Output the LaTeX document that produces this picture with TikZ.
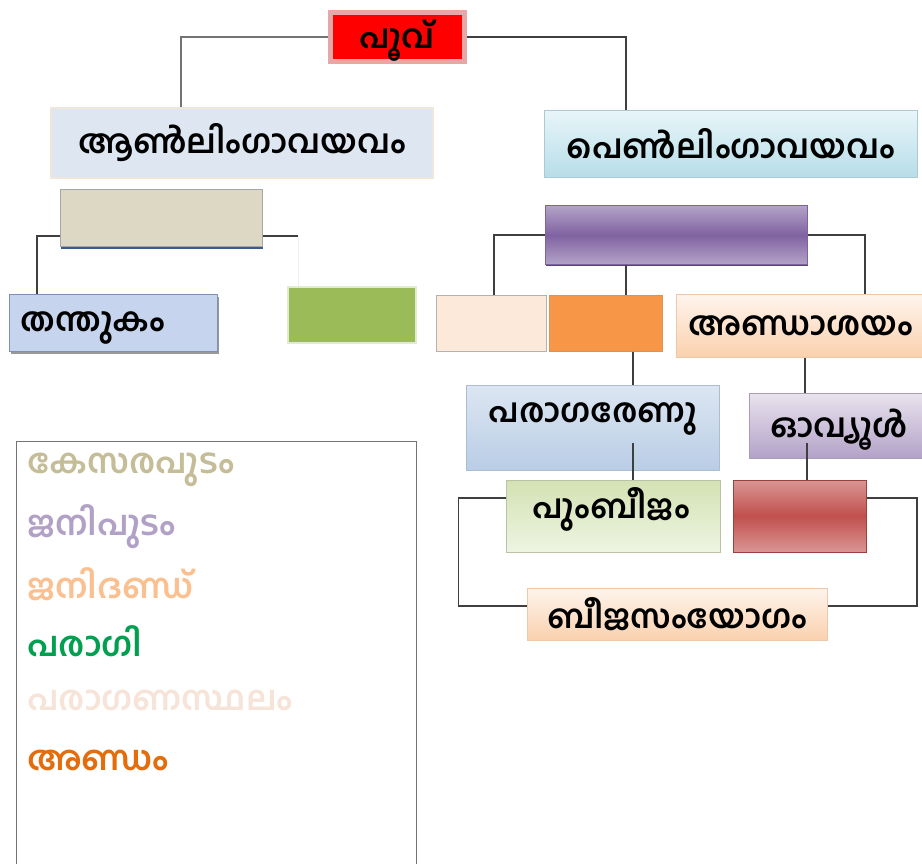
\documentclass[tikz,border=0pt]{standalone}
\usepackage{fontspec}
\newfontfamily\ml[Script=Malayalam]{Hind Kochi}
\usetikzlibrary{shadows}
\definecolor{conn}{HTML}{3F3F3F}
\definecolor{pinkb}{HTML}{E8A6A6}
\definecolor{anfill}{HTML}{DDE6F1}
\definecolor{anbord}{HTML}{EFE6DC}
\definecolor{pentop}{HTML}{E8F5F9}
\definecolor{penbot}{HTML}{B7DDE8}
\definecolor{kesfill}{HTML}{DDD8C3}
\definecolor{shblue}{HTML}{385D8A}
\definecolor{thfill}{HTML}{C6D4EE}
\definecolor{thbord}{HTML}{7F8FB5}
\definecolor{grfill}{HTML}{9BBB59}
\definecolor{purlt}{HTML}{B3A2C7}
\definecolor{purdk}{HTML}{7F62A1}
\definecolor{peach}{HTML}{FDE9D9}
\definecolor{orng}{HTML}{F79646}
\definecolor{peachtop}{HTML}{FEF4EC}
\definecolor{peachbot}{HTML}{FAD1AE}
\definecolor{bltop}{HTML}{DCE6F2}
\definecolor{blbot}{HTML}{B9CDE5}
\definecolor{ovtop}{HTML}{E8E2EE}
\definecolor{grtop}{HTML}{D3E2B3}
\definecolor{grbot}{HTML}{EEF4E2}
\definecolor{redlt}{HTML}{DA9694}
\definecolor{reddk}{HTML}{C0504D}
\definecolor{lgkes}{HTML}{C4BD97}
\definecolor{lgjani}{HTML}{B2A1C7}
\definecolor{lgdand}{HTML}{FAC090}
\definecolor{lgparagi}{HTML}{00A050}
\definecolor{lgsthal}{HTML}{F7E4D8}
\definecolor{lgandam}{HTML}{E46C0A}
\begin{document}
\begin{tikzpicture}[x=1pt,y=-1pt,
  mlfont/.style={font=\ml\bfseries\fontsize{33}{38}\selectfont},
  box/.style={rectangle, inner sep=0pt, line width=1pt, mlfont},
  txt/.style={mlfont, inner sep=0pt},
  conline/.style={draw=conn, line width=1.5pt},
  lg/.style={anchor=west, inner sep=0pt, font=\ml\bfseries\fontsize{34}{38}\selectfont}]
\fill[white] (0,0) rectangle (922,864);
\useasboundingbox (0,0) rectangle (922,864);

% nodes
\node[box, fill=red, draw=pinkb, line width=5pt, minimum width=134pt, minimum height=49pt] (poo) at (397,37) {};
\node[txt] (poot) at (397,41) {പൂവ്};
\node[box, fill=anfill, draw=anbord, line width=2pt, minimum width=382pt, minimum height=70pt] (an) at (242,143) {ആൺലിംഗാവയവം};
\node[box, top color=pentop, bottom color=penbot, draw=penbot!80!gray, minimum width=373pt, minimum height=67pt] (pen) at (731,144) {പെൺലിംഗാവയവം};
\node[box, fill=kesfill, draw=gray!70, drop shadow={shadow xshift=1pt, shadow yshift=-2.5pt, fill=shblue, opacity=1}, minimum width=202pt, minimum height=57pt] (kes) at (161,218) {};
\node[box, fill=thfill, draw=thbord, drop shadow={shadow xshift=2pt, shadow yshift=-2pt, fill=gray!80, opacity=1}, minimum width=208pt, minimum height=57pt] (thanthu) at (113,323) {};
\node[txt] (thanthut) at (93,328) {തന്തുകം};
\node[box, fill=grfill, draw=grfill!30, line width=2pt, minimum width=128pt, minimum height=56pt] (paragi) at (352,315) {};
\node[box, top color=purlt, bottom color=purlt, middle color=purdk, draw=purdk, drop shadow={shadow xshift=1pt, shadow yshift=-2pt, fill=purdk!70!black, opacity=1}, minimum width=262pt, minimum height=58pt] (jani) at (676,235) {};
\node[box, fill=peach, draw=gray!60, minimum width=110pt, minimum height=56pt] (sthal) at (491,323) {};
\node[box, fill=orng, draw=orng!80!gray, minimum width=113pt, minimum height=56pt] (dand) at (606,323) {};
\node[box, top color=peachtop, bottom color=peachbot, draw=peachbot!90!gray, minimum width=246pt, minimum height=63pt] (anda) at (799,326) {\hspace*{4pt}അണ്ഡാശയം};
\node[box, top color=bltop, bottom color=blbot, draw=blbot!80!gray, minimum width=253pt, minimum height=85pt] (renu) at (593,428) {};
\node[txt] (renut) at (593,419) {പരാഗരേണു};
\node[box, top color=ovtop, bottom color=purlt, draw=purlt!80!gray, minimum width=173pt, minimum height=65pt] (ovule) at (836,426) {};
\node[txt] (ovulet) at (839,430) {ഓവ്യൂൾ};
\node[box, top color=grtop, bottom color=grbot, draw=grtop!70!gray, minimum width=214pt, minimum height=72pt] (pum) at (613,516) {};
\node[txt] (pumt) at (611,509) {പുംബീജം};
\node[box, top color=redlt, bottom color=redlt, middle color=reddk, draw=reddk!80!black, minimum width=133pt, minimum height=72pt] (andam) at (800,516) {};
\node[box, top color=peachtop, bottom color=peachbot, draw=peachbot!90!gray, minimum width=300pt, minimum height=52pt] (beej) at (677,614) {ബീജസംയോഗം};

% connectors
\draw[conline, line width=2.5pt, draw=gray!90!black] (poo.west) -| ([xshift=-61pt]an.north);
\draw[conline] (poo.east) -| ([xshift=-105pt]pen.north);
\draw[conline] ([yshift=-18pt]kes.west) -| ([xshift=-76pt]thanthu.north);
\coordinate (kesend) at (298,236);
\draw[conline] ([yshift=-18pt]kes.east) -- (kesend);
\draw[gray!12, line width=1pt] (kesend) -- (kesend |- paragi.north);
\draw[conline] (jani.west) -| ([xshift=3pt]sthal.north);
\draw[conline] ([xshift=-50pt]jani.south) -- ([xshift=20pt]dand.north);
\draw[conline] (jani.east) -| ([xshift=66pt]anda.north);
\draw[conline, line width=2pt] ([xshift=27pt]dand.south) -- ([xshift=40pt]renu.north);
\draw[conline] ([xshift=6pt]anda.south) -- ([xshift=-31pt]ovule.north);
\draw[conline, line width=2pt] ([xshift=40pt,yshift=-15pt]renu.center) -- ([xshift=20pt]pum.north);
\draw[conline] ([xshift=-29pt,yshift=-17pt]ovule.center) -- ([xshift=7pt]andam.north);
\draw[conline] ([yshift=18pt]pum.west) -- ++(-47,0) |- ([yshift=8pt]beej.west);
\draw[conline] ([yshift=18pt]andam.east) -- ++(50,0) |- ([yshift=8pt]beej.east);

% legend
\draw[gray!90!black, line width=1pt] (16,870) -- (16,441) -- (416,441) -- (416,870);
\node[lg, text=lgkes] (l1) at (27,470) {കേസരപുടം};
\node[lg, text=lgjani] (l2) at (27,527) {ജനിപുടം};
\node[lg, text=lgdand] (l3) at (27,584) {ജനിദണ്ഡ്};
\node[lg, text=lgparagi] (l4) at (27,641) {പരാഗി};
\node[lg, text=lgsthal] (l5) at (27,700) {പരാഗണസ്ഥലം};
\node[lg, text=lgandam] (l6) at (27,760) {അണ്ഡം};
\end{tikzpicture}
\end{document}
